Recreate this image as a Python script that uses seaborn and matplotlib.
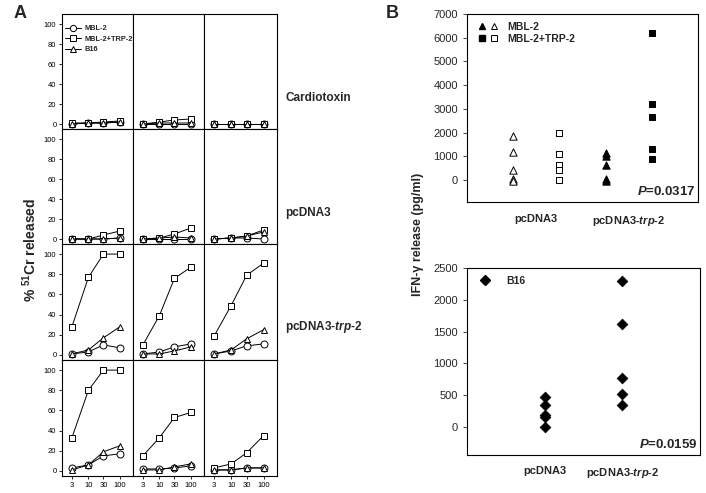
import numpy as np
import pandas as pd
import seaborn as sns
import matplotlib.pyplot as plt
from matplotlib.lines import Line2D
from matplotlib.legend_handler import HandlerTuple
from matplotlib.ticker import NullLocator

# ---- data, panel A (% 51Cr released), rows = treatment, cols = individual mice
dose = [3, 10, 30, 100]
mbl2 = [
    [[0, 1, 1, 2], [0, 0, 0, 0], [0, 0, 0, 0]],
    [[0, 0, 0, 1], [0, 0, 0, 0], [0, 1, 1, 0]],
    [[1, 3, 10, 7], [1, 3, 8, 11], [1, 4, 9, 11]],
    [[3, 6, 15, 17], [2, 2, 3, 5], [1, 1, 3, 3]],
]
mbl2_trp2 = [
    [[1, 1, 2, 3], [0, 2, 4, 5], [0, 0, 0, 0]],
    [[0, 0, 4, 8], [0, 1, 5, 11], [0, 1, 3, 9]],
    [[28, 77, 100, 100], [10, 39, 76, 87], [19, 49, 79, 91]],
    [[33, 80, 100, 100], [15, 33, 53, 58], [3, 7, 18, 35]],
]
b16 = [
    [[0, 1, 1, 2], [0, 1, 1, 1], [0, 0, 0, 0]],
    [[0, 0, 0, 1], [0, 1, 2, 1], [0, 1, 3, 7]],
    [[1, 5, 17, 28], [1, 1, 4, 8], [1, 5, 16, 25]],
    [[1, 6, 19, 25], [1, 1, 4, 7], [1, 1, 3, 3]],
]
row_labels = ["Cardiotoxin", "pcDNA3", r"pcDNA3-$\mathit{trp}$-$\mathit{2}$"]

# ---- data, panel B (IFN-gamma pg/ml)
vectors = ["pcDNA3", r"pcDNA3-$\mathit{trp}$-$\mathit{2}$"]
ifn_mbl2 = [[1850, 1180, 400, 30, -50], [1130, 1030, 650, 30, -40]]
ifn_mbl2_trp2 = [[2000, 1080, 620, 420, 0], [6200, 3220, 2650, 1320, 900]]
ifn_b16 = [[470, 350, 190, 160, 0], [2300, 1620, 770, 520, 350]]

sns.set_style("white")
plt.rcParams['font.family'] = ['Liberation Sans', 'DejaVu Sans']
plt.rcParams['mathtext.fontset'] = 'custom'
plt.rcParams['mathtext.rm'] = 'Liberation Sans:bold'
plt.rcParams['mathtext.it'] = 'Liberation Sans:italic:bold'
plt.rcParams['mathtext.bf'] = 'Liberation Sans:bold'
plt.rcParams['axes.linewidth'] = 0.8

W, H = 706, 493
fig = plt.figure(figsize=(W / 100, H / 100), dpi=100)

def box(x0, y0, x1, y1):
    return [x0 / W, 1 - y1 / H, (x1 - x0) / W, (y1 - y0) / H]

col_edges = [62, 133, 204, 277]
row_edges = [14, 129, 244, 360, 476]
series = [(mbl2, 'o'), (mbl2_trp2, 's'), (b16, '^')]

for r in range(4):
    for c in range(3):
        ax = fig.add_axes(box(col_edges[c], row_edges[r], col_edges[c + 1], row_edges[r + 1]))
        for data, mk in series:
            sns.lineplot(x=dose, y=data[r][c], ax=ax, color='black', lw=0.7,
                         marker=mk, markersize=5, mfc='white', mec='black', mew=0.7)
        ax.set_xscale('log')
        ax.set_xlim(1.45, 260)
        ax.set_ylim(-5, 110)
        ax.xaxis.set_minor_locator(NullLocator())
        ax.set_xticks(dose)
        ax.set_yticks([0, 20, 40, 60, 80, 100])
        for s in ax.spines.values():
            s.set_color('black')
            s.set_linewidth(0.8)
        ax.tick_params(direction='out', length=2, width=0.6, labelsize=5.5, pad=2, colors='black')
        if c == 0:
            ax.tick_params(axis='y', left=True)
        else:
            ax.tick_params(axis='y', left=False, labelleft=False)
        if r == 3:
            ax.set_xticklabels([str(d) for d in dose])
            ax.tick_params(axis='x', bottom=True)
        else:
            ax.tick_params(axis='x', bottom=False, labelbottom=False)
        ax.set_xlabel('')
        ax.set_ylabel('')
        if r == 0 and c == 0:
            hs = [Line2D([], [], color='black', lw=0.7, marker=mk, markersize=4.5,
                         mfc='white', mec='black', mew=0.7) for _, mk in series]
            ax.legend(hs, ["MBL-2", "MBL-2+TRP-2", "B16"], loc='upper left',
                      bbox_to_anchor=(0.0, 0.93), frameon=False, handlelength=2.2,
                      handletextpad=0.4, labelspacing=0.45, borderaxespad=0,
                      prop={'weight': 'bold', 'size': 5.3})

for lab, y in zip(row_labels, [98, 213, 327]):
    fig.text(285 / W, 1 - y / H, lab, fontsize=8.5, fontweight='bold', va='center', ha='left')

fig.text(30 / W, 1 - 250 / H, r"% $^{51}$Cr released", rotation=90, fontsize=10,
         fontweight='bold', va='center', ha='center')
fig.text(14 / W, 1 - 13 / H, "A", fontsize=13, fontweight='bold', va='center')
fig.text(386 / W, 1 - 13 / H, "B", fontsize=13, fontweight='bold', va='center')

# ---- panel B top
axb = fig.add_axes(box(467, 14, 698, 202))
off = 0.25
for i in range(2):
    fill = 'white' if i == 0 else 'black'
    sns.scatterplot(x=[i - off] * len(ifn_mbl2[i]), y=ifn_mbl2[i], ax=axb, marker='^', s=28,
                    color=fill, edgecolor='black', linewidth=0.7)
    sns.scatterplot(x=[i + off] * len(ifn_mbl2_trp2[i]), y=ifn_mbl2_trp2[i], ax=axb, marker='s', s=24,
                    color=fill, edgecolor='black', linewidth=0.7)
axb.set_xlim(-0.75, 1.75)
axb.set_ylim(-930, 7000)
axb.set_yticks(range(0, 7001, 1000))
axb.set_xticks([0, 1])
axb.set_xticklabels(vectors, fontweight='bold', fontsize=8)
axb.tick_params(axis='x', length=0, pad=9)
axb.tick_params(axis='y', direction='out', length=3, width=0.6, labelsize=8, left=True)
for s in axb.spines.values():
    s.set_color('black')
    s.set_linewidth(0.8)
h1 = (Line2D([], [], ls='', marker='^', ms=5, mfc='black', mec='black'),
      Line2D([], [], ls='', marker='^', ms=5, mfc='white', mec='black', mew=0.7))
h2 = (Line2D([], [], ls='', marker='s', ms=5, mfc='black', mec='black'),
      Line2D([], [], ls='', marker='s', ms=5, mfc='white', mec='black', mew=0.7))
axb.legend([h1, h2], ["MBL-2", "MBL-2+TRP-2"], handler_map={tuple: HandlerTuple(ndivide=None, pad=0.5)},
           loc='upper left', bbox_to_anchor=(0.035, 0.98), frameon=False, handlelength=1.7,
           handletextpad=1.0, labelspacing=0.2, borderaxespad=0,
           prop={'weight': 'bold', 'size': 7.5})
axb.text(0.99, 0.02, r"$\mathit{P}$=0.0317", transform=axb.transAxes, ha='right', va='bottom',
         fontsize=9.5, fontweight='bold')
axb.set_xlabel('')
axb.set_ylabel('')

# ---- panel B bottom
axc = fig.add_axes(box(467, 268, 700, 455))
for i in range(2):
    sns.scatterplot(x=[i] * len(ifn_b16[i]), y=ifn_b16[i], ax=axc, marker='D', s=30,
                    color='black', edgecolor='black', linewidth=0.5)
axc.set_xlim(-1, 2)
axc.set_ylim(-440, 2500)
axc.set_yticks(range(0, 2501, 500))
axc.set_xticks([0, 1])
axc.set_xticklabels(vectors, fontweight='bold', fontsize=8)
axc.tick_params(axis='x', length=0, pad=8)
axc.tick_params(axis='y', direction='out', length=3, width=0.6, labelsize=8, left=True)
for s in axc.spines.values():
    s.set_color('black')
    s.set_linewidth(0.8)
hd = Line2D([], [], ls='', marker='D', ms=5, mfc='black', mec='black')
axc.legend([hd], ["B16"], loc='upper left', bbox_to_anchor=(0.035, 0.98), frameon=False,
           handlelength=1.0, handletextpad=1.6, borderaxespad=0,
           prop={'weight': 'bold', 'size': 7.5})
axc.text(0.99, 0.02, r"$\mathit{P}$=0.0159", transform=axc.transAxes, ha='right', va='bottom',
         fontsize=9.5, fontweight='bold')
axc.set_xlabel('')
axc.set_ylabel('')

fig.text(418 / W, 1 - 234 / H, "IFN-γ release (pg/ml)", rotation=90, fontsize=9,
         fontweight='bold', va='center', ha='center')

fig.savefig("out.png", dpi=100)
